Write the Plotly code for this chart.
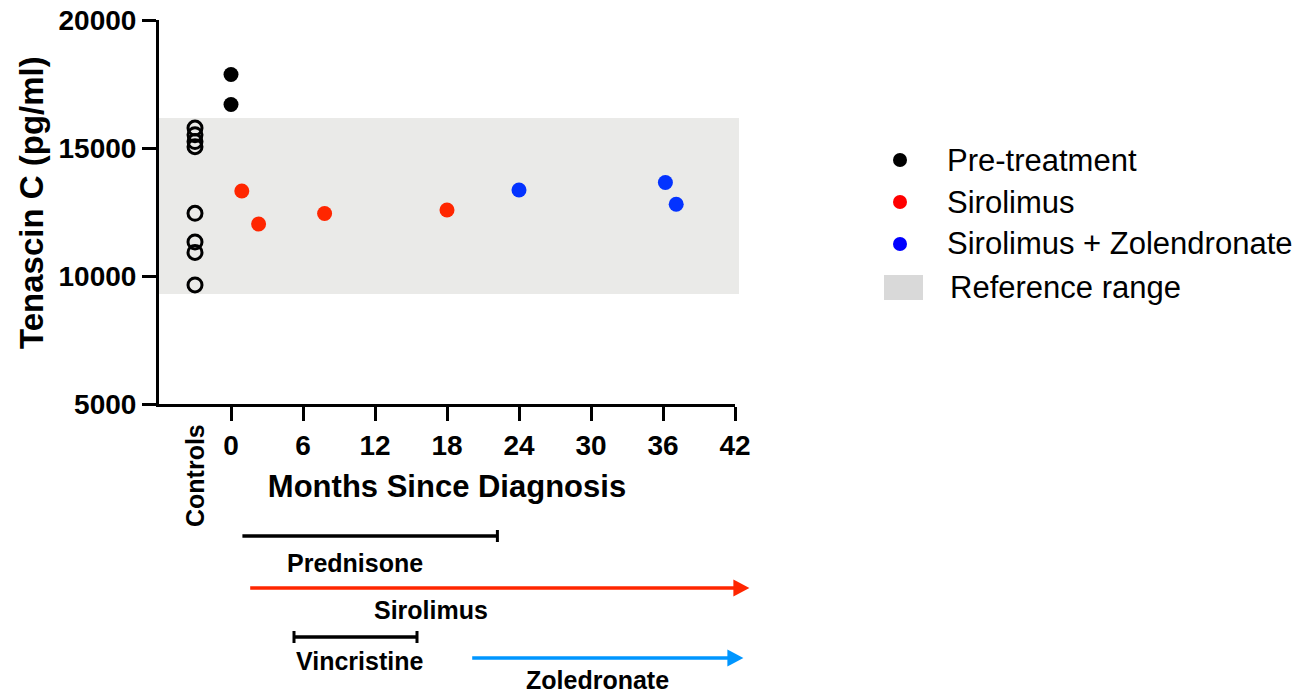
import plotly.graph_objects as go

# ---------------- data ----------------
control_x = [-3, -3, -3, -3, -3, -3, -3, -3]
control_y = [15780, 15520, 15250, 15050, 12450, 11330, 10920, 9650]

pre_x = [0, 0]
pre_y = [17870, 16700]

siro_x = [0.9, 2.3, 7.8, 18.0]
siro_y = [13320, 12030, 12440, 12580]

zol_x = [24.0, 36.2, 37.1]
zol_y = [13360, 13650, 12800]

ref_low, ref_high = 9300, 16170

x_tickvals = [0, 6, 12, 18, 24, 30, 36, 42]
x_ticktext = ["0", "6", "12", "18", "24", "30", "36", "42"]
y_tickvals = [5000, 10000, 15000, 20000]

legend_names = ["Pre-treatment", "Sirolimus", "Sirolimus + Zolendronate"]

treat_names = ["Prednisone", "Sirolimus", "Vincristine", "Zoledronate"]
treat_start = [0.95, 1.6, 5.25, 20.1]
treat_end = [22.2, 43.2, 15.5, 42.7]

# ---------------- styles ----------------
FONT = "Liberation Sans, Arial, Helvetica, sans-serif"
RED = "#FF2600"
BLUE = "#0433FF"
AQUA = "#0096FF"
SHADE = "#EAEAE8"
XMIN, XMAX = -6, 42
W, H = 1301, 695
ML, MT = 159, 20
PW, PH = 576, 384
MR = W - ML - PW
MB = H - MT - PH


def xp(px):
    """page pixel x -> paper fraction"""
    return (px - ML) / PW


def yp(py):
    """page pixel y -> paper fraction"""
    return (MT + PH - py) / PH


def mpaper(m):
    return (m - XMIN) / (XMAX - XMIN)


fig = go.Figure()

fig.add_trace(go.Scatter(x=control_x, y=control_y, mode="markers", name="Controls",
                         showlegend=False,
                         marker=dict(symbol="circle-open", size=14, color="black",
                                     line=dict(width=3, color="black"))))
fig.add_trace(go.Scatter(x=pre_x, y=pre_y, mode="markers", name=legend_names[0],
                         showlegend=False, marker=dict(size=15, color="black")))
fig.add_trace(go.Scatter(x=siro_x, y=siro_y, mode="markers", name=legend_names[1],
                         showlegend=False, marker=dict(size=15, color=RED)))
fig.add_trace(go.Scatter(x=zol_x, y=zol_y, mode="markers", name=legend_names[2],
                         showlegend=False, marker=dict(size=15, color=BLUE)))

shapes = []
# reference range band
shapes.append(dict(type="rect", xref="paper", yref="y", x0=0, x1=1.007,
                   y0=ref_low, y1=ref_high, fillcolor=SHADE, line=dict(width=0),
                   layer="below"))

# legend markers
leg_colors = ["#000000", "#FF0000", "#0000FF"]
leg_rows = [160, 202, 244]
for c, r in zip(leg_colors, leg_rows):
    shapes.append(dict(type="circle", xref="paper", yref="paper",
                       xsizemode="pixel", ysizemode="pixel",
                       xanchor=xp(900), yanchor=yp(r),
                       x0=-7, x1=7, y0=-7, y1=7,
                       fillcolor=c, line=dict(width=0)))
shapes.append(dict(type="rect", xref="paper", yref="paper",
                   x0=xp(884), x1=xp(923), y0=yp(300), y1=yp(275),
                   fillcolor="#D9D9D9", line=dict(width=0)))

# treatment timelines
rows_y = [536, 588, 637, 658]
colors = ["black", RED, "black", AQUA]
caps = [(False, True), None, (True, True), None]
arrow = [False, True, False, True]
for i in range(4):
    y = yp(rows_y[i])
    x0 = mpaper(treat_start[i])
    x1 = mpaper(treat_end[i])
    if arrow[i]:
        shapes.append(dict(type="line", xref="paper", yref="paper",
                           x0=x0, x1=x1 - 14 / PW, y0=y, y1=y,
                           line=dict(color=colors[i], width=3.5)))
        shapes.append(dict(type="path", xref="paper", yref="paper",
                           xsizemode="pixel", ysizemode="pixel",
                           xanchor=x1, yanchor=y,
                           path="M -16,-8.5 L 0,0 L -16,8.5 Z",
                           fillcolor=colors[i], line=dict(width=0)))
    else:
        shapes.append(dict(type="line", xref="paper", yref="paper",
                           x0=x0, x1=x1, y0=y, y1=y,
                           line=dict(color=colors[i], width=3.5)))
        for on, xx in zip(caps[i], (x0, x1)):
            if on:
                shapes.append(dict(type="line", xref="paper", yref="paper",
                                   xsizemode="pixel", ysizemode="pixel",
                                   xanchor=xx, yanchor=y, x0=0, x1=0, y0=-6, y1=6,
                                   line=dict(color=colors[i], width=3)))

annotations = []
# legend text
for name, r in zip(legend_names, leg_rows):
    annotations.append(dict(text=name, xref="paper", yref="paper", x=xp(945), y=yp(r),
                            xanchor="left", yanchor="middle", showarrow=False,
                            font=dict(family=FONT, size=31, color="black")))
annotations.append(dict(text="Reference range", xref="paper", yref="paper",
                        x=xp(948), y=yp(287), xanchor="left", yanchor="middle",
                        showarrow=False, font=dict(family=FONT, size=31, color="black")))

# Y-axis title
annotations.append(dict(text="<b>Tenascin C (pg/ml)</b>", xref="paper", yref="paper",
                        x=xp(31), y=yp(203), xanchor="center", yanchor="middle",
                        textangle=-90, showarrow=False,
                        font=dict(family=FONT, size=33, color="black")))

# Controls label
annotations.append(dict(text="<b>Controls</b>", xref="x", yref="paper", x=-3, y=yp(476),
                        xanchor="center", yanchor="middle", textangle=-90, showarrow=False,
                        font=dict(family=FONT, size=25, color="black")))

# treatment labels
label_pos = [(355, 563), (431, 610), (359, 661), (597, 680)]
for name, (lx, ly) in zip(treat_names, label_pos):
    annotations.append(dict(text="<b>" + name + "</b>", xref="paper", yref="paper",
                            x=xp(lx), y=yp(ly), xanchor="center", yanchor="middle",
                            showarrow=False, font=dict(family=FONT, size=25, color="black")))

fig.update_layout(
    width=W, height=H,
    margin=dict(l=ML, r=MR, t=MT, b=MB, autoexpand=False),
    paper_bgcolor="white", plot_bgcolor="white",
    showlegend=False,
    shapes=shapes, annotations=annotations,
    font=dict(family=FONT, color="black"),
    xaxis=dict(range=[XMIN, XMAX], tickvals=x_tickvals,
               ticktext=["<b>" + t + "</b>" for t in x_ticktext],
               showgrid=False, zeroline=False, showline=True, linecolor="black",
               linewidth=3, ticks="outside", ticklen=14, tickwidth=3, tickcolor="black",
               tickfont=dict(family=FONT, size=28, color="black"),
               title=dict(text="<b>Months Since Diagnosis</b>",
                          font=dict(family=FONT, size=31, color="black"), standoff=16)),
    yaxis=dict(range=[5000, 20000], tickvals=y_tickvals,
               ticktext=["<b>%d</b>" % v for v in y_tickvals],
               showgrid=False, zeroline=False, showline=True, linecolor="black",
               linewidth=3, ticks="outside", ticklen=14, tickwidth=3, tickcolor="black",
               tickfont=dict(family=FONT, size=28, color="black")),
)

fig.write_html("out.html", config={"displayModeBar": False},
               post_script="document.body.style.margin='0';document.body.style.overflow='hidden';")
